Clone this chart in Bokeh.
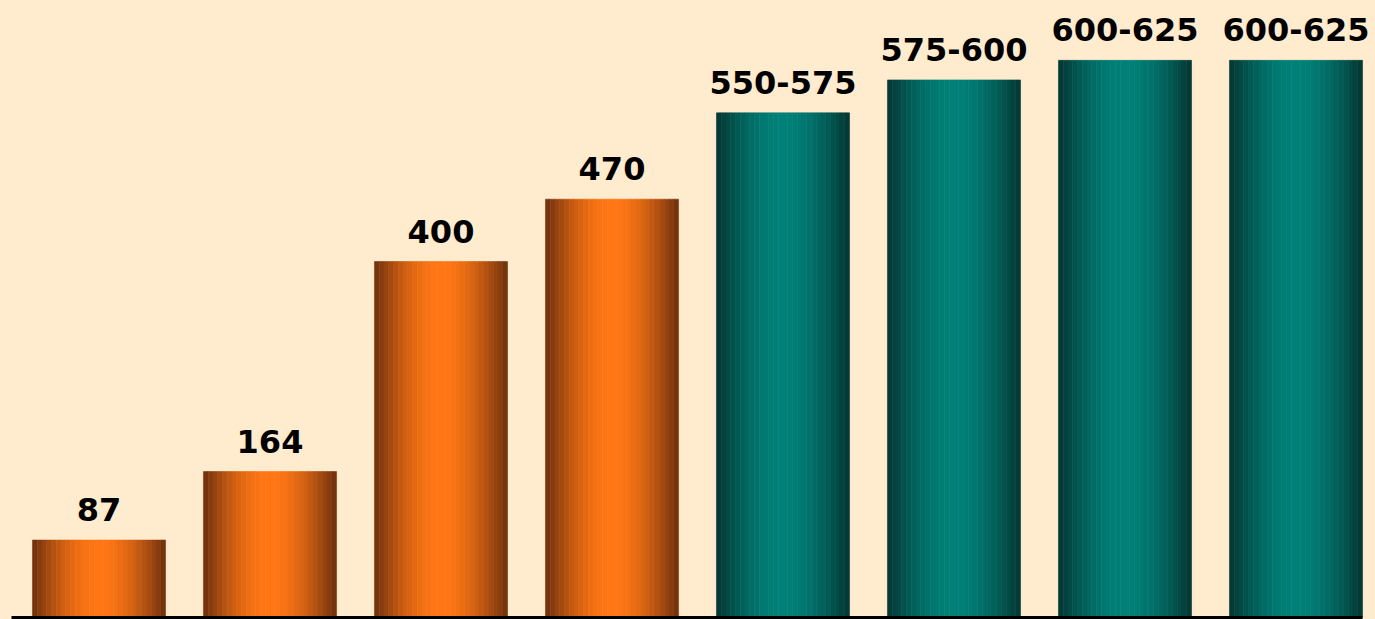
import numpy as np
from bokeh.plotting import figure
from bokeh.models import (ColumnDataSource, Range1d, LabelSet, LinearAxis,
                          FixedTicker)
from bokeh.core.properties import value
from bokeh.embed import file_html
from bokeh.resources import INLINE

# ---- data ----
labels = ["87", "164", "400", "470", "550-575", "575-600", "600-625", "600-625"]
heights = [87, 164, 400, 470, 567, 604, 626, 626]
groups = ["orange", "orange", "orange", "orange", "teal", "teal", "teal", "teal"]

# ---- styles ----
BG = "#FFEBCD"
PALETTE = {
    "orange": {"dark": (110, 48, 14), "bright": (255, 118, 20)},
    "teal": {"dark": (4, 54, 50), "bright": (0, 128, 120)},
}
BAR_W = 0.778
N_STRIPS = 28

xs = list(range(len(heights)))

# gradient strips built from the bar data
sx, sw, stop, scol = [], [], [], []
for xi, h, g in zip(xs, heights, groups):
    d = np.array(PALETTE[g]["dark"], dtype=float)
    b = np.array(PALETTE[g]["bright"], dtype=float)
    for k in range(N_STRIPS):
        t = (k + 0.5) / N_STRIPS
        f = np.sin(np.pi * t) ** 1.0
        c = d + (b - d) * f
        sx.append(xi - BAR_W / 2 + (k + 0.5) * BAR_W / N_STRIPS)
        sw.append(BAR_W / N_STRIPS)
        stop.append(h)
        scol.append("#%02x%02x%02x" % tuple(int(round(v)) for v in c))

strip_src = ColumnDataSource(dict(x=sx, w=sw, top=stop, color=scol))
label_src = ColumnDataSource(dict(x=xs, top=heights, label=labels))

PX_PER_UNIT = 0.89
PX_PER_CAT = 171.0
FRAME_H = 617
X_START = -98.5 / PX_PER_CAT

p = figure(
    width=1375, height=619,
    x_range=Range1d(X_START, X_START + 1375 / PX_PER_CAT),
    y_range=Range1d(0, FRAME_H / PX_PER_UNIT),
    x_axis_type=None, y_axis_type=None,
    output_backend="svg", toolbar_location=None,
    min_border_left=0, min_border_right=0,
    min_border_top=0, min_border_bottom=2,
)
p.background_fill_color = BG
p.border_fill_color = BG
p.outline_line_color = None
p.grid.visible = False

p.vbar(x="x", width="w", top="top", bottom=0, source=strip_src,
       fill_color="color", line_color="color", line_width=0.6)

# baseline: an x-axis whose line stops short of the right edge
axis = LinearAxis(ticker=FixedTicker(ticks=[]),
                  bounds=(X_START + 11 / PX_PER_CAT, X_START + 1362 / PX_PER_CAT),
                  axis_line_color="black", axis_line_width=3,
                  major_tick_line_color=None, minor_tick_line_color=None,
                  major_tick_out=0, major_tick_in=0, minor_tick_out=0, minor_tick_in=0,
                  major_label_text_font_size="0px", major_label_standoff=0)
p.add_layout(axis, "below")

p.add_layout(LabelSet(x="x", y="top", text="label", source=label_src,
                      text_align="center", text_baseline="alphabetic", y_offset=19,
                      text_font=value("DejaVu Sans"), text_font_style="bold",
                      text_font_size="32px", text_color="black"))

html = file_html(p, INLINE)
html = html.replace("<head>", "<head><style>html,body{background:%s;}</style>" % BG, 1)
open("out.html", "w").write(html)
